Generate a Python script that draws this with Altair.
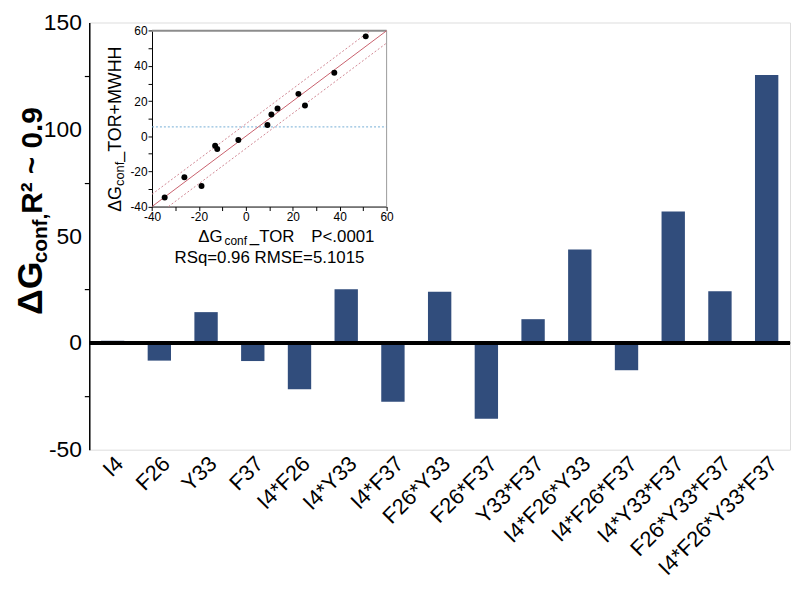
import altair as alt
import pandas as pd

# ---------------- data ----------------
categories = ["I4", "F26", "Y33", "F37", "I4*F26", "I4*Y33", "I4*F37", "F26*Y33",
              "F26*F37", "Y33*F37", "I4*F26*Y33", "I4*F26*F37", "I4*Y33*F37",
              "F26*Y33*F37", "I4*F26*Y33*F37"]
dg_values = [1.0, -8.3, 14.4, -8.5, -21.7, 25.1, -27.5, 24.0, -35.5, 11.1,
             43.7, -12.8, 61.5, 24.2, 125.4]

main_y_ticks = [-50, -25, 0, 25, 50, 75, 100, 125, 150]

inset_x = [51.1, 37.7, 22.4, 25.2, 13.5, 10.9, 9.2, -3.2, -13.1, -12.2, -26.2, -18.9, -34.6]
inset_y = [56.8, 36.1, 24.1, 17.5, 15.8, 12.4, 6.4, -2.2, -5.4, -7.3, -23.3, -28.3, -34.9]
fit_x = [-40, 60]
fit_y = [-40, 60]
upper_x = [-40, 53]
upper_y = [-33, 60]
lower_x = [-33, 60]
lower_y = [-40, 53]
mean_y = 5.3
inset_ticks = [-40, -30, -20, -10, 0, 10, 20, 30, 40, 50, 60]

# ---------------- layout ----------------
W, H = 707, 431
IX = [63.3, 300]        # inset x pixel range (plot coords)
IY = [185.7, 8.3]       # inset y pixel range
FONT = "Liberation Sans"
BAR = "#314d7c"

bars_df = pd.DataFrame({"cat": categories, "val": dg_values})

main_x = alt.X("cat:N", sort=categories,
               scale=alt.Scale(paddingInner=0.5, paddingOuter=0.25),
               axis=alt.Axis(title=None, labelAngle=-45, labelFontSize=22, labelFont=FONT,
                             labelColor="black", ticks=False, domain=False, labelPadding=3))
main_y = alt.Y("val:Q", scale=alt.Scale(domain=[-50, 150], nice=False),
               axis=alt.Axis(title=None, values=main_y_ticks, labelFontSize=23, labelFont=FONT,
                             labelColor="black", domainColor="black", domainWidth=1.5,
                             tickColor="black", tickSize=5, tickWidth=1.2, grid=False,
                             labelPadding=3,
                             labelExpr="datum.value % 50 === 0 ? '' + datum.value : ''",
                             tickOpacity={"condition": {"test": "datum.value % 50 === 0", "value": 0},
                                          "value": 1}))

bars = alt.Chart(bars_df).mark_bar(color=BAR).encode(x=main_x, y=main_y)
zero = alt.Chart(bars_df).mark_rule(color="black", strokeWidth=3).encode(y=alt.datum(0))


def txt(s, x, y, size, bold=False, angle=0, align="left"):
    return alt.Chart(pd.DataFrame({"t": [s]})).mark_text(
        text=s, font=FONT, fontSize=size, fontWeight="bold" if bold else "normal",
        angle=angle, align=align, baseline="alphabetic", color="black"
    ).encode(x=alt.value(x), y=alt.value(y))


title_parts = [
    txt("ΔG", -48, 295, 36, True, 270),
    txt("conf,", -43, 243, 21, True, 270),
    txt(" R² ~ 0.9", -48, 193, 30, True, 270),
]

main = alt.layer(bars, zero, *title_parts)

# ---------------- inset ----------------
ix_axis = alt.Axis(title=None, orient="bottom", offset=-(H - IY[0]), values=inset_ticks,
                   labelExpr="datum.value % 20 === 0 ? '' + datum.value : ''",
                   labelFontSize=12, labelFont=FONT, labelColor="black", labelFlush=False,
                   domainColor="black", domainWidth=1, tickColor="black", tickSize=4,
                   grid=False, labelPadding=1)
iy_axis = alt.Axis(title=None, orient="left", offset=-IX[0], values=inset_ticks,
                   labelExpr="datum.value % 20 === 0 ? '' + datum.value : ''",
                   labelFontSize=12, labelFont=FONT, labelColor="black", labelFlush=False,
                   domainColor="black", domainWidth=1, tickColor="black", tickSize=4,
                   grid=False, labelPadding=1)
isx = alt.Scale(domain=[-40, 60], range=IX, nice=False, zero=False)
isy = alt.Scale(domain=[-40, 60], range=IY, nice=False, zero=False)


def IXe(f="x"):
    return alt.X(f"{f}:Q", scale=isx, axis=ix_axis)


def IYe(f="y"):
    return alt.Y(f"{f}:Q", scale=isy, axis=iy_axis)


pts = alt.Chart(pd.DataFrame({"x": inset_x, "y": inset_y})).mark_circle(
    color="black", opacity=1, size=36).encode(x=IXe(), y=IYe())
fit = alt.Chart(pd.DataFrame({"x": fit_x, "y": fit_y})).mark_line(
    color="#c8606c", strokeWidth=1).encode(x=IXe(), y=IYe())
up = alt.Chart(pd.DataFrame({"x": upper_x, "y": upper_y})).mark_line(
    color="#d08894", strokeWidth=1, strokeDash=[2, 2]).encode(x=IXe(), y=IYe())
lo = alt.Chart(pd.DataFrame({"x": lower_x, "y": lower_y})).mark_line(
    color="#d08894", strokeWidth=1, strokeDash=[2, 2]).encode(x=IXe(), y=IYe())
mean = alt.Chart(pd.DataFrame({"x": [-40], "x2": [60], "y": [mean_y]})).mark_rule(
    color="#74aed6", strokeWidth=1, strokeDash=[2, 2]).encode(x=IXe(), x2="x2:Q", y=IYe())
top_border = alt.Chart(pd.DataFrame({"x": [-40], "x2": [60], "y": [60]})).mark_rule(
    color="#8c8c8c", strokeWidth=2).encode(x=IXe(), x2="x2:Q", y=IYe())
right_border = alt.Chart(pd.DataFrame({"x": [60], "y": [-40], "y2": [60]})).mark_rule(
    color="#9a9a9a", strokeWidth=1).encode(x=IXe(), y=IYe(), y2="y2:Q")

inset_texts = [
    txt("ΔG", 32, 191, 18, False, 270),
    txt("conf", 35.5, 165, 13, False, 270),
    txt(" _TOR+MWHH", 32, 140.4, 18, False, 270),
    txt("ΔG", 110, 221, 17),
    txt("conf", 136.5, 224, 12),
    txt(" _TOR", 162, 221, 17),
    txt("P<.0001", 224, 221, 17),
    txt("RSq=0.96 RMSE=5.1015", 86, 243, 17),
]

inset = alt.layer(top_border, right_border, mean, up, lo, fit, pts, *inset_texts)

chart = alt.layer(main, inset).resolve_scale(x="independent", y="independent").properties(
    width=W, height=H,
    padding={"left": 82, "top": 12, "right": 2, "bottom": 146},
    autosize=alt.AutoSizeParams(type="none"),
).configure_view(stroke="black", strokeWidth=1.5).configure(background="white")

chart.save("out.html", embed_options={"renderer": "svg", "actions": False})
